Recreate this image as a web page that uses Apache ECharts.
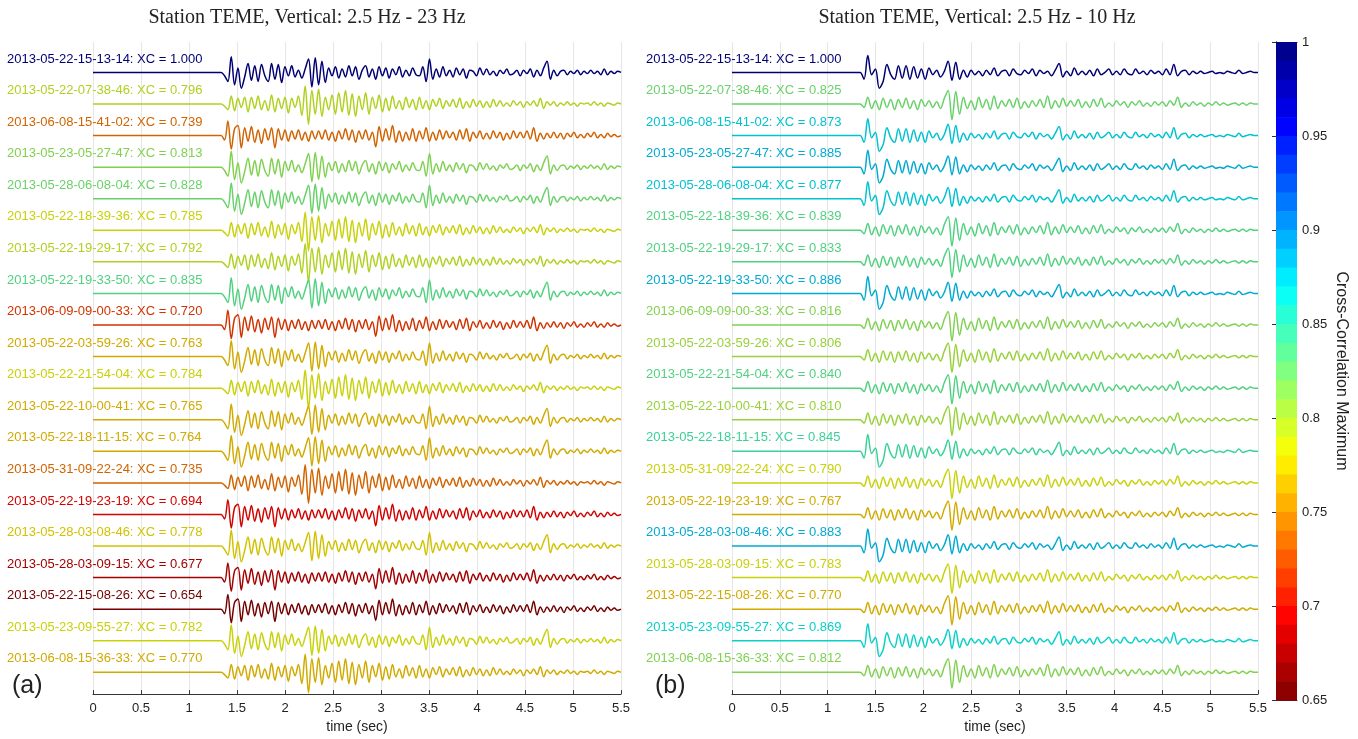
<!DOCTYPE html>
<html><head><meta charset="utf-8">
<script src="https://cdn.jsdelivr.net/npm/echarts@6/dist/echarts.min.js"></script>
<style>html,body{margin:0;padding:0;background:#fff}#c{width:1358px;height:739px}</style>
</head><body><div id="c"></div>
<script>
// ---------------- data ----------------
const panelTitles = ['Station TEME, Vertical: 2.5 Hz - 23 Hz', 'Station TEME, Vertical: 2.5 Hz - 10 Hz'];
const panelTags = ['(a)', '(b)'];
const eventsA = ['2013-05-22-15-13-14','2013-05-22-07-38-46','2013-06-08-15-41-02','2013-05-23-05-27-47','2013-05-28-06-08-04','2013-05-22-18-39-36','2013-05-22-19-29-17','2013-05-22-19-33-50','2013-06-09-09-00-33','2013-05-22-03-59-26','2013-05-22-21-54-04','2013-05-22-10-00-41','2013-05-22-18-11-15','2013-05-31-09-22-24','2013-05-22-19-23-19','2013-05-28-03-08-46','2013-05-28-03-09-15','2013-05-22-15-08-26','2013-05-23-09-55-27','2013-06-08-15-36-33'];
const xcA = [1.000,0.796,0.739,0.813,0.828,0.785,0.792,0.835,0.720,0.763,0.784,0.765,0.764,0.735,0.694,0.778,0.677,0.654,0.782,0.770];
const shapeA = [0,1,2,0,0,1,1,0,2,0,1,0,0,1,2,0,2,2,0,1];
const eventsB = eventsA;
const xcB = [1.000,0.825,0.873,0.885,0.877,0.839,0.833,0.886,0.816,0.806,0.840,0.810,0.845,0.790,0.767,0.883,0.783,0.770,0.869,0.812];
const shapeB = [0,1,0,0,0,1,1,0,1,1,1,1,0,1,1,0,1,1,0,1];
const colorbarTicks = [0.65,0.7,0.75,0.8,0.85,0.9,0.95,1];
const sampleStart = 1.3;            // seconds, first template sample
const stepA = 0.035, stepB = 0.04;  // seconds between template samples
// waveform templates (estimated deflection; 28 units = one trace spacing)
const waveA1 = [0,0,-3,-8,14,-11,4,-14,-4,8, -7,6,-8,7,-3,-8,8,-6,7,-9, 5,-3,6,-4,2,-5,3,12,-13,13, -11,10,-9,4,-3,5,-5,3,-4,6, -3,5,-6,2,6,-4,3,-6,5,-3, 4,-5,3,-2,5,-4,2,-3,4,-2, -3,5,-8,12,-6,3,-4,5,-3,2, -4,4,-2,3,-5,2,1,-3,4,-2, 3,-2,1,-3,2,-1,3,-2,-1,2, -3,2,-1,3,-4,2,-3,4,10,-6, 2,-3,1,2,-2,1,-1,2,-2,1, -1,2,-1,1,-2,3,-2,1,-1,1, 0];
const waveA2 = [0,0,-2,-5,7,-6,5,-3,6,-7, 6,-4,7,-5,3,-6,8,-7,5,-4, 6,-8,5,-3,7,-10,16,-18,12,-9, 13,-11,6,-5,8,-9,10,-7,12,-10, 9,-11,7,-5,10,-9,6,-4,8,-7, 5,-6,7,-4,3,-5,6,-3,4,-5, 6,-4,3,-5,4,-2,5,-4,3,-2, 4,-3,5,-4,2,-3,4,-2,3,-3, 2,-3,4,-2,3,-2,1,-2,3,-1, 2,-3,2,-1,3,-2,5,-4,2,-1, 2,-2,1,-1,2,-1,1,-2,1,0, 1,-1,2,-1,1,-2,1,0,-1,1, 0];
const waveA3 = [0,0,-4,13,-12,6,9,-11,7,-5, 8,-6,5,-7,6,-4,7,-11,6,-4, 5,-5,4,-3,5,-4,3,-5,4,-3, 4,-3,5,-4,3,-5,4,-3,6,-4, 5,-6,4,-3,5,-4,3,-10,8,-5, 6,-4,9,-6,4,-5,3,-4,6,-5, 4,-3,7,-5,3,-4,5,-3,4,-2, 3,-4,5,-3,6,-5,3,-2,4,-3, 2,-3,4,-2,3,-4,2,-3,4,-2, 3,-2,4,-3,7,-5,2,-3,2,-2, 3,-2,2,-3,2,-1,3,-2,1,-2, 2,-1,3,-2,1,-2,2,-1,1,-1, 0];
const waveB1 = [0,0,-6,15,-2,3,-14,-8,7,-2, -6,6,-5,6,-6,5,-5,3,-6,4, -2,2,-4,1,10,-7,9,-6,2,-4, 2,-2,1,-3,2,-2,4,-3,1,2, -3,3,-1,-2,2,-1,3,-3,2,-1, 1,-3,2,8,-4,1,-3,4,-2,1, -2,2,-3,3,-2,0,3,-2,1,-2, 3,-1,-2,3,-1,1,-2,2,-1,1, -2,3,-2,7,-3,1,2,-2,1,-1, 1,-1,0,1,-1,0,-1,1,0,-1, 2,-1,0,1,0,0];
const waveB2 = [0,0,-3,6,-4,3,-5,5,-3,4, -5,4,-3,5,-4,3,-5,4,-2,3, -3,2,-4,5,12,-14,11,-9,6,-4, 3,-5,6,-3,4,-5,7,-4,3,-2, 4,-3,5,-4,2,-3,3,-2,4,-3, 7,-4,3,-3,5,-2,3,-2,4,-3, 2,-3,4,-2,5,-3,1,-2,3,-1, 2,-3,2,-1,3,-2,1,-2,2,-1, 2,-2,3,-1,6,-3,1,-2,2,-1, 1,-2,1,-1,2,-1,1,-1,0,1, -1,1,-1,1,0,0];
const templatesA = [waveA1, waveA2, waveA3];
const templatesB = [waveB1, waveB2];

// ---------------- helpers ----------------
const CMIN = 0.65, CMAX = 1.0, NBANDS = 35;
function clamp(v){return Math.max(0, Math.min(1, v));}
function jetRev(x, f){ // x=0 -> dark blue, x=1 -> dark red; f = brightness factor
  f = f || 1;
  const r = clamp(1.5 - Math.abs(4*x - 3)), g = clamp(1.5 - Math.abs(4*x - 2)), b = clamp(1.5 - Math.abs(4*x - 1));
  return 'rgb(' + Math.round(r*255*f) + ',' + Math.round(g*255*f) + ',' + Math.round(b*255*f) + ')';
}
function bandIndex(v){
  let k = Math.floor((CMAX - v) / ((CMAX - CMIN) / NBANDS) + 1e-9);
  return Math.max(0, Math.min(NBANDS - 1, k));
}
function bandColor(k){ return jetRev((k + 0.5) / NBANDS); }
function xcColor(v){ return jetRev((bandIndex(v) + 0.5) / NBANDS, 0.82); }
const ampUnit = 1 / 28;
function traceData(tpl, step, offset){
  const d = [[0, offset]];
  tpl.forEach((v, i) => d.push([+(sampleStart + i * step).toFixed(3), offset + v * ampUnit]));
  return d;
}

const FONT = 'Liberation Sans, Arial, Helvetica, sans-serif';
const gridTop = 42, gridBottomPx = 700;
const yMax = 0.964, yMin = -19.69;

const chart = echarts.init(document.getElementById('c'), null, {renderer: 'canvas'});
const grids = [
  {left: 93, width: 528, top: gridTop, height: gridBottomPx - gridTop},
  {left: 732, width: 526, top: gridTop, height: gridBottomPx - gridTop},
  {left: 1276, width: 21, top: 42, height: 658}
];
function mkX(gi){
  return {type: 'value', gridIndex: gi, min: 0, max: 5.5, interval: 0.5,
    axisLine: {show: true, onZero: false, lineStyle: {color: '#333', width: 1}},
    axisTick: {show: true, inside: true, length: 4, lineStyle: {color: '#333'}},
    axisLabel: {color: '#222', fontSize: 13, fontFamily: FONT, margin: 8},
    splitLine: {show: true, lineStyle: {color: '#e6e6e6', width: 1}},
    name: 'time (sec)', nameLocation: 'middle', nameGap: 23,
    nameTextStyle: {color: '#222', fontSize: 14, fontFamily: FONT}};
}
function mkY(gi){
  return {type: 'value', gridIndex: gi, min: yMin, max: yMax, show: false, splitLine: {show: false}};
}
const xAxes = [mkX(0), mkX(1),
  {type: 'value', gridIndex: 2, min: 0, max: 1, position: 'bottom', axisLine: {show: true, lineStyle: {color: '#333'}}, axisTick: {show: false}, axisLabel: {show: false}, splitLine: {show: false}},
  {type: 'value', gridIndex: 2, min: 0, max: 1, position: 'top', axisLine: {show: true, lineStyle: {color: '#333'}}, axisTick: {show: false}, axisLabel: {show: false}, splitLine: {show: false}}
];
const yAxes = [mkY(0), mkY(1),
  {type: 'value', gridIndex: 2, min: CMIN, max: CMAX, interval: 0.05, position: 'right',
    axisLine: {show: true, lineStyle: {color: '#333'}},
    axisTick: {show: true, inside: true, length: 4, lineStyle: {color: '#333'}},
    axisLabel: {color: '#222', fontSize: 13, fontFamily: FONT, margin: 5,
      formatter: v => { const t = colorbarTicks.find(c => Math.abs(c - v) < 1e-6); return t === undefined ? '' : String(t); }},
    splitLine: {show: false}},
  {type: 'value', gridIndex: 2, min: CMIN, max: CMAX, interval: 0.05, position: 'left',
    axisLine: {show: true, lineStyle: {color: '#333'}},
    axisTick: {show: true, inside: true, length: 4, lineStyle: {color: '#333'}},
    axisLabel: {show: false}, splitLine: {show: false}}
];

const series = [];
function addPanel(gi, xcs, shapes, tpls, step){
  xcs.forEach((xc, i) => {
    series.push({type: 'line', xAxisIndex: gi, yAxisIndex: gi, data: traceData(tpls[shapes[i]], step, -i),
      showSymbol: false, symbol: 'none', smooth: 0.35, silent: true, animation: false,
      lineStyle: {color: xcColor(xc), width: 1.5}});
  });
}
addPanel(0, xcA, shapeA, templatesA, stepA);
addPanel(1, xcB, shapeB, templatesB, stepB);

const bands = [];
for (let k = 0; k < NBANDS; k++) {
  const hi = CMAX - k * (CMAX - CMIN) / NBANDS, lo = CMAX - (k + 1) * (CMAX - CMIN) / NBANDS;
  bands.push([lo, hi, k]);
}
series.push({type: 'custom', xAxisIndex: 2, yAxisIndex: 2, data: bands, silent: true, animation: false, z: 1,
  renderItem: (params, api) => {
    const p1 = api.coord([0, api.value(1)]), p2 = api.coord([1, api.value(0)]);
    return {type: 'rect', shape: {x: p1[0], y: p1[1], width: p2[0] - p1[0], height: p2[1] - p1[1] + 0.6},
      style: {fill: bandColor(api.value(2))}};
  }});

chart.setOption({
  animation: false,
  backgroundColor: '#fff',
  grid: grids,
  xAxis: xAxes,
  yAxis: yAxes,
  series: series
});

// text elements positioned through the chart's scales
const g = [];
function labelPanel(gi, events, xcs, leftX){
  events.forEach((ev, i) => {
    const p = chart.convertToPixel({gridIndex: gi}, [0, -i]);
    g.push({type: 'text', x: leftX, y: p[1] - 13.5, silent: true,
      style: {text: ev + ': XC = ' + xcs[i].toFixed(3), fill: xcColor(xcs[i]), font: '13px ' + FONT,
        textAlign: 'left', textVerticalAlign: 'middle', verticalAlign: 'middle'}});
  });
}
labelPanel(0, eventsA, xcA, 7);
labelPanel(1, eventsB, xcB, 646);
[[0, 307], [1, 977]].forEach(([i, cx]) => {
  g.push({type: 'text', x: cx, y: 18, silent: true,
    style: {text: panelTitles[i], fill: '#222', font: '20px Liberation Serif, Times New Roman, serif',
      textAlign: 'center', textVerticalAlign: 'middle', verticalAlign: 'middle'}});
});
[[0, 12], [1, 655]].forEach(([i, lx]) => {
  g.push({type: 'text', x: lx, y: 686, silent: true,
    style: {text: panelTags[i], fill: '#222', font: '25px ' + FONT, textAlign: 'left', textVerticalAlign: 'middle', verticalAlign: 'middle'}});
});
g.push({type: 'text', x: 1341, y: 371, rotation: -Math.PI / 2, silent: true,
  style: {text: 'Cross-Correlation Maximum', fill: '#222', font: '16px ' + FONT, textAlign: 'center', textVerticalAlign: 'middle', verticalAlign: 'middle'}});
chart.setOption({graphic: g});
</script>
</body></html>
